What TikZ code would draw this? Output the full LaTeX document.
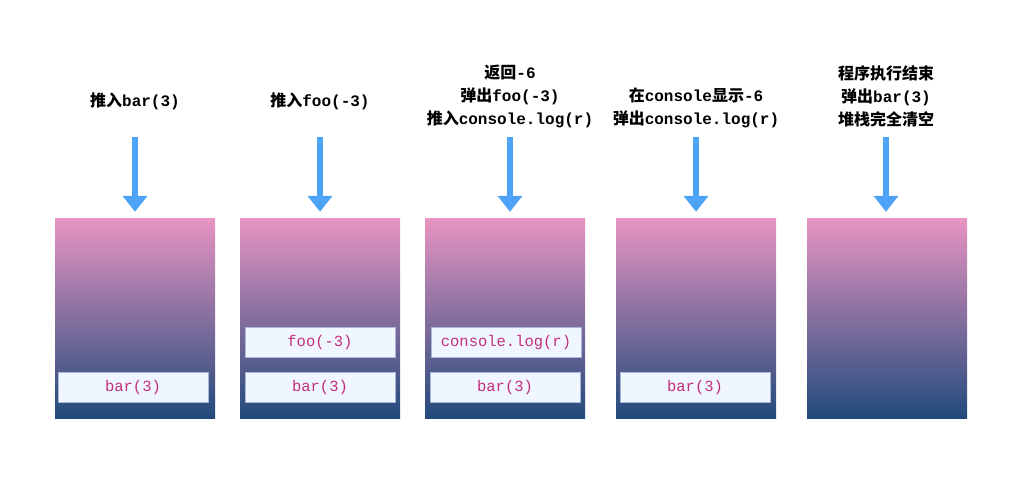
\documentclass[tikz,border=0pt]{standalone}
\usepackage{fontspec}
\setmonofont{Liberation Mono}
\newfontfamily\cjk{Noto Sans CJK SC}
\usetikzlibrary{
  positioning,
  arrows.meta
}
\usepackage{xcolor}

\definecolor{stacktop}{RGB}{233,148,194}
\definecolor{stackbot}{RGB}{34,74,124}
\definecolor{flowblue}{RGB}{77,163,247}
\definecolor{callfill}{RGB}{240,246,255}
\definecolor{callline}{RGB}{168,184,216}
\definecolor{calltext}{RGB}{194,48,122}

\newcommand{\zh}[1]{{\cjk #1}}

\tikzset{
  stack/.style={minimum width=160pt, minimum height=200pt, inner sep=0pt,
    top color=stacktop, bottom color=stackbot},
  callbox/.style={minimum width=150pt, minimum height=30pt, inner sep=0pt,
    fill=callfill, draw=callline, line width=0.8pt, text=calltext,
    font=\ttfamily\fontsize{15.5}{18}\selectfont},
  lbl/.style={align=center, font=\bfseries\fontsize{16}{23}\selectfont},
  flow/.style={-{Triangle[width=24pt,length=16pt]}, line width=6pt, draw=flowblue}
}

\begin{document}
\begin{tikzpicture}[x=1pt, y=-1pt]

	\useasboundingbox (0,0) rectangle (1023,493);

	% stacks
	\node[stack] (s1) at (135,318) {};
	\node[stack] (s2) at (320,318) {};
	\node[stack] (s3) at (505,318) {};
	\node[stack] (s4) at (696,318) {};
	\node[stack] (s5) at (887,318) {};

	% frames
	\node[callbox, above=15pt of s1.south, xshift=-2pt] (b1) {bar(3)};
	\node[callbox, above=15pt of s2.south] (b2) {bar(3)};
	\node[callbox, above=15pt of b2] (f2) {foo(-3)};
	\node[callbox, above=15pt of s3.south] (b3) {bar(3)};
	\node[callbox, above=15pt of b3, xshift=1pt] (c3) {console.log(r)};
	\node[callbox, above=15pt of s4.south, xshift=-1pt] (b4) {bar(3)};

	% steps
	\node[lbl] (l1) at (135,101) {\zh{推入}\texttt{bar(3)}};
	\node[lbl] (l2) at (320,101) {\zh{推入}\texttt{foo(-3)}};
	\node[lbl] (l3) at (510,96) {\zh{返回}\texttt{-6}\\
		\zh{弹出}\texttt{foo(-3)}\\
		\zh{推入}\texttt{console.log(r)}};
	\node[lbl] (l4) at (696,107.5) {\zh{在}\texttt{console}\zh{显示}\texttt{-6}\\
		\zh{弹出}\texttt{console.log(r)}};
	\node[lbl] (l5) at (886,96) {\zh{程序执行结束}\\
		\zh{弹出}\texttt{bar(3)}\\
		\zh{堆栈完全清空}};

	% arrows
	\coordinate (a1) at (135,137);
	\coordinate (a2) at (320,137);
	\coordinate (a3) at (510,137);
	\coordinate (a4) at (696,137);
	\coordinate (a5) at (886,137);

	\draw[flow] (a1) -- ([yshift=6pt]s1.north);
	\draw[flow] (a2) -- ([yshift=6pt]s2.north);
	\draw[flow] (a3) -- ([yshift=6pt,xshift=5pt]s3.north);
	\draw[flow] (a4) -- ([yshift=6pt]s4.north);
	\draw[flow] (a5) -- ([yshift=6pt,xshift=-1pt]s5.north);

\end{tikzpicture}
\end{document}
